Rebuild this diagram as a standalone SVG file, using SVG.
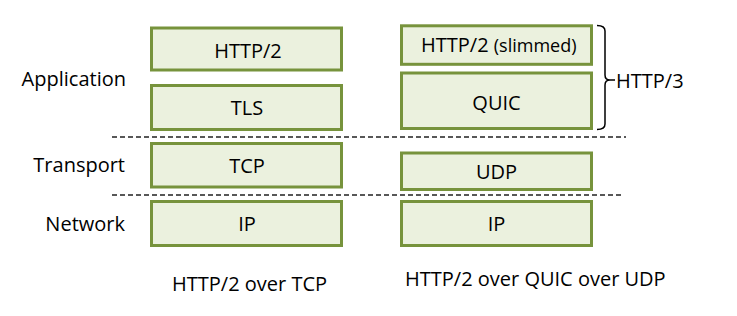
<svg xmlns="http://www.w3.org/2000/svg" width="737" height="316" viewBox="0 0 737 316">
<style>
.box{fill:#EBF1DE;stroke:#77933C;stroke-width:3}
.t{font-family:"Open Sans","Liberation Sans",sans-serif;font-size:20px;fill:#000}
.c{text-anchor:middle}
.e{text-anchor:end}
.dash{stroke:#222;stroke-width:1.5;stroke-dasharray:5 3;fill:none}
</style>
<rect width="737" height="316" fill="#fff"/>
<g id="layer-labels">
<text class="t e" x="126" y="85.5">Application</text>
<text class="t e" x="125" y="172">Transport</text>
<text class="t e" x="125" y="231">Network</text>
</g>
<g id="connectors">
<line class="dash" x1="112" y1="137" x2="626" y2="137"/>
<line class="dash" x1="112" y1="195" x2="624" y2="195"/>
<path d="M597,25.5 Q605,25.5 605,31 L605,75 Q605,80 610,80 L615,80 M610,80 Q605,80 605,85 L605,124 Q605,129.5 597,129.5" fill="none" stroke="#000" stroke-width="1.5"/>
</g>
<g id="http2-left"><rect class="box" x="151.5" y="28" width="190" height="42"/><text class="t c" x="248" y="57.5">HTTP/2</text></g>
<g id="tls"><rect class="box" x="151.5" y="85.5" width="190" height="44"/><text class="t c" x="247" y="115">TLS</text></g>
<g id="tcp"><rect class="box" x="151.5" y="143.5" width="190" height="43.5"/><text class="t c" x="247" y="173">TCP</text></g>
<g id="ip-left"><rect class="box" x="151.5" y="201.5" width="190" height="44"/><text class="t c" x="247" y="231">IP</text></g>
<g id="http2-slimmed"><rect class="box" x="401.5" y="25.8" width="190" height="38.5"/><text class="t" x="421" y="51.7">HTTP/2 <tspan font-size="18px">(slimmed)</tspan></text></g>
<g id="quic"><rect class="box" x="401.5" y="73" width="190" height="55.5"/><text class="t c" x="496.5" y="110">QUIC</text></g>
<g id="udp"><rect class="box" x="401.5" y="153" width="190" height="36.5"/><text class="t c" x="496.5" y="178.5">UDP</text></g>
<g id="ip-right"><rect class="box" x="401.5" y="201.5" width="190" height="44"/><text class="t c" x="496.5" y="231">IP</text></g>
<g id="http3-label"><text class="t" x="616" y="88" font-size="18px">HTTP/3</text></g>
<g id="captions">
<text class="t" x="172" y="291">HTTP/2 over TCP</text>
<text class="t" x="405" y="286">HTTP/2 over QUIC over UDP</text>
</g>
</svg>
